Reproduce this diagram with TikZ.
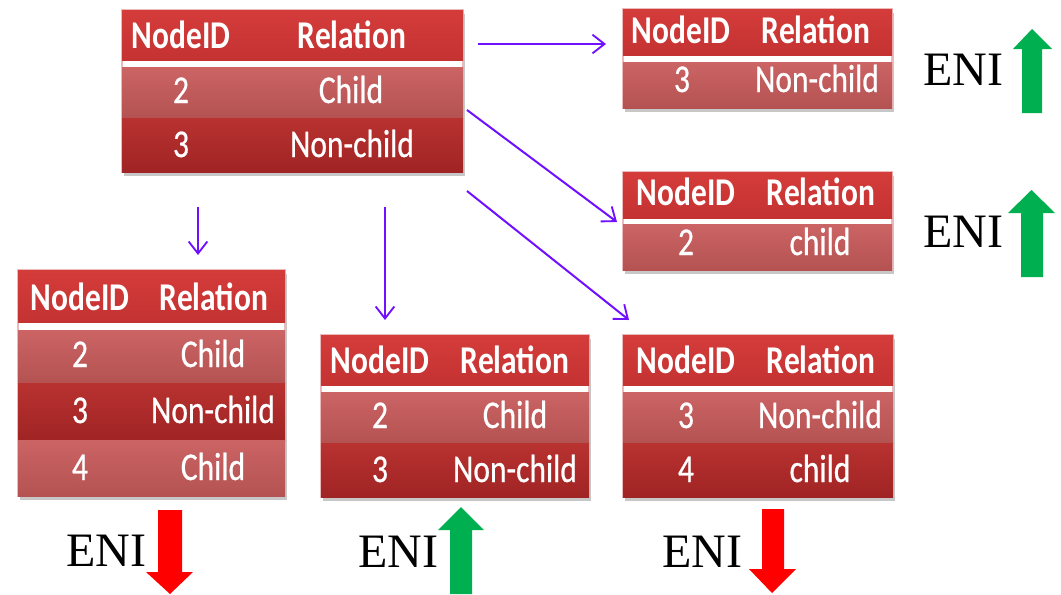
\documentclass[tikz,border=0pt]{standalone}
\usepackage{fontspec}
\setmainfont{Liberation Serif}
\newfontfamily\tabfont[FakeStretch=0.8]{Carlito}
\newfontfamily\cellfont[FakeStretch=0.8,FakeBold=0.6]{Carlito}
\usetikzlibrary{shadows,arrows.meta}
\definecolor{hdrtop}{RGB}{212,60,58}
\definecolor{hdrbot}{RGB}{196,50,50}
\definecolor{ltop}{RGB}{204,100,100}
\definecolor{lbot}{RGB}{180,82,82}
\definecolor{dtop}{RGB}{184,50,48}
\definecolor{dbot}{RGB}{160,36,36}
\definecolor{tborder}{RGB}{236,186,186}
\definecolor{conncol}{RGB}{112,16,255}
\definecolor{upgreen}{RGB}{0,176,80}
\definecolor{downred}{RGB}{255,0,0}
\tikzset{
  box/.style={anchor=north west, inner sep=0pt, outer sep=0pt},
  tbl/.style={box, fill=white, draw=tborder, line width=0.8pt,
    drop shadow={shadow xshift=1.5pt, shadow yshift=-3pt, opacity=0.22, fill=black}},
  hdrrow/.style={box, top color=hdrtop, bottom color=hdrbot},
  lrow/.style={box, top color=ltop, bottom color=lbot},
  drow/.style={box, top color=dtop, bottom color=dbot},
  ht/.style={anchor=base, text=white, inner sep=0pt, font=\tabfont\bfseries\fontsize{29.5}{30}\selectfont},
  ct/.style={anchor=base, text=white, inner sep=0pt, font=\cellfont\fontsize{29.5}{30}\selectfont},
  eni/.style={anchor=base west, inner sep=0pt, font=\fontsize{36}{38}\selectfont},
  conn/.style={draw=conncol, line width=1.5pt, -{Straight Barb[length=9pt,width=14pt,line width=1.4pt]}},
  uparrow/.style={fill=upgreen},
  downarrow/.style={fill=downred}
}
% name, style, x1, y1, x2, y2
\newcommand{\bx}[6]{\node[#2, minimum width={(#5-#3)*0.75pt}, minimum height={(#6-#4)*0.75pt}] (#1) at (#3,#4) {};}
\begin{document}
\begin{tikzpicture}[x=0.75pt, y=-0.75pt]
\useasboundingbox (0,0) rectangle (1061,594);
\fill[white] (0,0) rectangle (1061,594);

% ---------- Table A (top) ----------
\bx{A}{tbl}{122}{10}{463}{172}
\bx{Ah}{hdrrow}{122}{10}{463}{60}
\bx{Ar1}{lrow}{122}{67}{463}{118}
\bx{Ar2}{drow}{122}{118}{463}{172}
\node[ht] (Ah1) at (181,48) {NodeID};
\node[ht] (Ah2) at (352,48) {Relation};
\node[ct] (Ac11) at (181,103) {2};
\node[ct] (Ac12) at (351,103) {Child};
\node[ct] (Ac21) at (181,157) {3};
\node[ct] (Ac22) at (352,157) {Non-child};

% ---------- Table B (top right) ----------
\bx{B}{tbl}{623}{9}{892}{108}
\bx{Bh}{hdrrow}{623}{9}{892}{55}
\bx{Br1}{lrow}{623}{62}{892}{108}
\node[ht] (Bh1) at (681,43) {NodeID};
\node[ht] (Bh2) at (816,43) {Relation};
\node[ct] (Bc11) at (682,92) {3};
\node[ct] (Bc12) at (817,92) {Non-child};

% ---------- Table C (middle right) ----------
\bx{C}{tbl}{623}{172}{892}{270}
\bx{Ch}{hdrrow}{623}{172}{892}{218}
\bx{Cr1}{lrow}{623}{224}{892}{270}
\node[ht] (Ch1) at (686,205) {NodeID};
\node[ht] (Ch2) at (821,205) {Relation};
\node[ct] (Cc11) at (686,255) {2};
\node[ct] (Cc12) at (820,255) {child};

% ---------- Table D (bottom left) ----------
\bx{D}{tbl}{18}{270}{285}{496}
\bx{Dh}{hdrrow}{18}{270}{285}{322}
\bx{Dr1}{lrow}{18}{330}{285}{383}
\bx{Dr2}{drow}{18}{383}{285}{440}
\bx{Dr3}{lrow}{18}{440}{285}{496}
\node[ht] (Dh1) at (80,310) {NodeID};
\node[ht] (Dh2) at (214,310) {Relation};
\node[ct] (Dc11) at (80,367) {2};
\node[ct] (Dc12) at (213,367) {Child};
\node[ct] (Dc21) at (80,423) {3};
\node[ct] (Dc22) at (213,423) {Non-child};
\node[ct] (Dc31) at (80,480) {4};
\node[ct] (Dc32) at (213,480) {Child};

% ---------- Table E (bottom middle) ----------
\bx{E}{tbl}{321}{335}{589}{497}
\bx{Eh}{hdrrow}{321}{335}{589}{385}
\bx{Er1}{lrow}{321}{392}{589}{443}
\bx{Er2}{drow}{321}{443}{589}{497}
\node[ht] (Eh1) at (380,373) {NodeID};
\node[ht] (Eh2) at (515,373) {Relation};
\node[ct] (Ec11) at (380,428) {2};
\node[ct] (Ec12) at (515,428) {Child};
\node[ct] (Ec21) at (380,482) {3};
\node[ct] (Ec22) at (515,482) {Non-child};

% ---------- Table F (bottom right) ----------
\bx{F}{tbl}{623}{335}{893}{497}
\bx{Fh}{hdrrow}{623}{335}{893}{385}
\bx{Fr1}{lrow}{623}{392}{893}{443}
\bx{Fr2}{drow}{623}{443}{893}{497}
\node[ht] (Fh1) at (686,373) {NodeID};
\node[ht] (Fh2) at (821,373) {Relation};
\node[ct] (Fc11) at (686,428) {3};
\node[ct] (Fc12) at (820,428) {Non-child};
\node[ct] (Fc21) at (686,482) {4};
\node[ct] (Fc22) at (820,482) {child};

% ---------- Connectors ----------
\coordinate (sAB) at (478,44);  \coordinate (eAB) at (606,44);
\coordinate (sAC) at (467,110); \coordinate (eAC) at (617,222);
\coordinate (sAF) at (467,191); \coordinate (eAF) at (629,320);
\coordinate (sAD) at (198,207); \coordinate (eAD) at (198,255);
\coordinate (sAE) at (385,207); \coordinate (eAE) at (385,320);
\draw[conn] (sAB) -- (eAB);
\draw[conn] (sAC) -- (eAC);
\draw[conn] (sAF) -- (eAF);
\draw[conn] (sAD) -- (eAD);
\draw[conn] (sAE) -- (eAE);

% ---------- ENI labels ----------
\node[eni] (eniB) at (923,85) {ENI};
\node[eni] (eniC) at (923,247) {ENI};
\node[eni] (eniD) at (66,566) {ENI};
\node[eni] (eniE) at (358,567) {ENI};
\node[eni] (eniF) at (662,567) {ENI};

% ---------- Block arrows ----------
\fill[uparrow] (1022,113) -- (1022,49) -- (1013,49) -- (1032,29) -- (1052,49) -- (1042,49) -- (1042,113) -- cycle;
\fill[uparrow] (1021,277) -- (1021,213) -- (1008,213) -- (1031.5,190) -- (1055,213) -- (1043,213) -- (1043,277) -- cycle;
\fill[downarrow] (158,510) -- (158,572) -- (146,572) -- (170,594) -- (193,572) -- (182,572) -- (182,510) -- cycle;
\fill[uparrow] (450,594) -- (450,530) -- (438,530) -- (461,507) -- (484,530) -- (472,530) -- (472,594) -- cycle;
\fill[downarrow] (762,509) -- (762,569) -- (749,569) -- (772,593) -- (796,569) -- (784,569) -- (784,509) -- cycle;
\end{tikzpicture}
\end{document}
